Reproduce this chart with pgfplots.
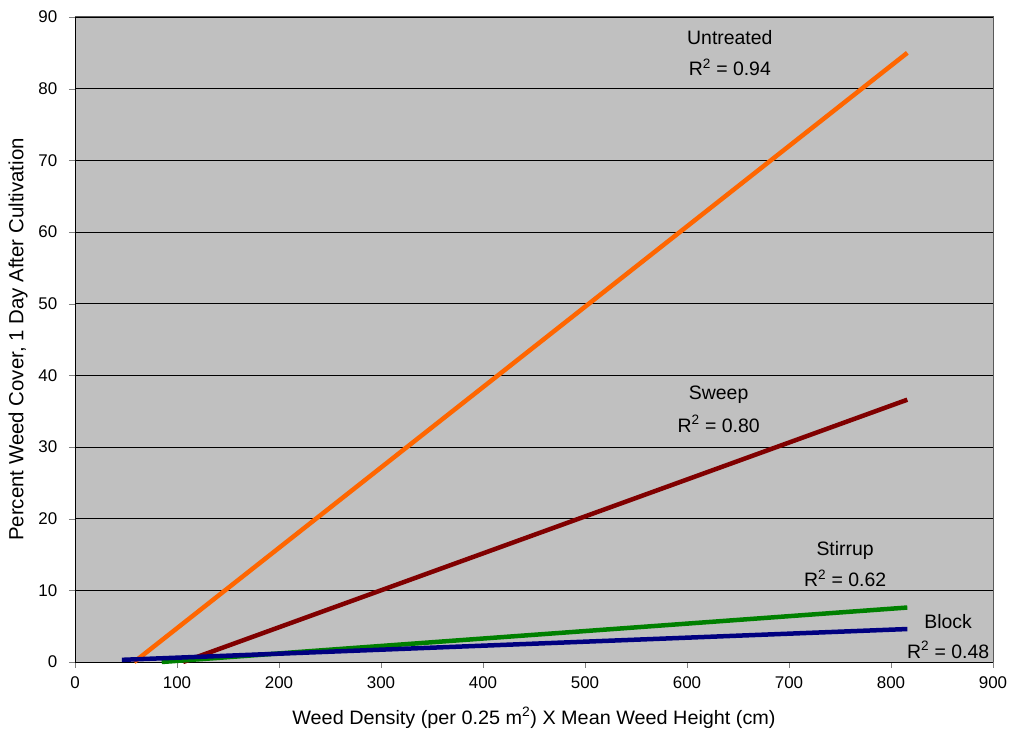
\documentclass[border=0pt]{standalone}
\usepackage{pgfplots}
\pgfplotsset{compat=1.18}
\usepackage{fontspec}
\setmainfont{Liberation Sans}
\definecolor{bggray}{RGB}{192,192,192}
\definecolor{untreated}{RGB}{255,102,0}
\definecolor{sweep}{RGB}{128,0,0}
\definecolor{stirrup}{RGB}{0,128,0}
\definecolor{block}{RGB}{0,0,128}
\begin{document}
\fontsize{19.5}{23}\selectfont
\begin{tikzpicture}[x=1bp,y=1bp]
\begin{axis}[
  scale only axis,
  width=918bp, height=645bp,
  xmin=0, xmax=900, ymin=0, ymax=90,
  xtick={0,100,...,900}, ytick={0,10,...,90},
  /pgf/number format/assume math mode=true,
  tick label style={font=\fontsize{17}{20}\selectfont},
  xticklabel style={yshift=-2bp},
  yticklabel style={xshift=-5bp},
  label style={font=\fontsize{19.5}{23}\selectfont},
  tick align=outside, tick pos=left,
  major tick length=6bp,
  axis background/.style={fill=bggray},
  ymajorgrids, grid style={black, line width=0.8bp},
  axis x line*=bottom, axis y line*=left,
  axis line style={black, line width=0.9bp},
  xlabel={Weed Density (per 0.25 m\textsuperscript{2}) X Mean Weed Height (cm)},
  ylabel={Percent Weed Cover, 1 Day After Cultivation},
  xlabel style={at={(rel axis cs:0.5,0)}, anchor=center, yshift=-56bp, xscale=1.02},
  ylabel style={at={(rel axis cs:0,0.5)}, anchor=center, yshift=57bp,
    font=\fontsize{20.5}{24}\selectfont},
  clip=false,
  every axis plot/.append style={line width=4.5bp},
]
% frame on the top and right
\draw[gray!70!black, line width=1bp] (axis cs:0,90) -- (axis cs:900,90) -- (axis cs:900,0);
% fitted regression lines
\addplot[untreated] coordinates {(58,0) (816,85.0)};
\addplot[sweep] coordinates {(106,0) (816,36.6)};
\addplot[stirrup] coordinates {(85,0) (816,7.6)};
\addplot[block] coordinates {(46,0.3) (816,4.6)};
\node at (axis cs:642,87.1) {Untreated};
\node at (axis cs:642,83.0) {R\textsuperscript{2} = 0.94};
\node at (axis cs:631,37.3) {Sweep};
\node at (axis cs:631,33.2) {R\textsuperscript{2} = 0.80};
\node at (axis cs:755,15.6) {Stirrup};
\node at (axis cs:755,11.7) {R\textsuperscript{2} = 0.62};
\node at (axis cs:856,5.6) {Block};
\node at (axis cs:856,1.7) {R\textsuperscript{2} = 0.48};
\coordinate (bl) at (rel axis cs:0,0);
\coordinate (tr) at (rel axis cs:1,1);
\end{axis}
\pgfresetboundingbox
\useasboundingbox ([xshift=-75bp,yshift=-72bp]bl) rectangle ([xshift=20bp,yshift=17bp]tr);
\end{tikzpicture}
\end{document}
